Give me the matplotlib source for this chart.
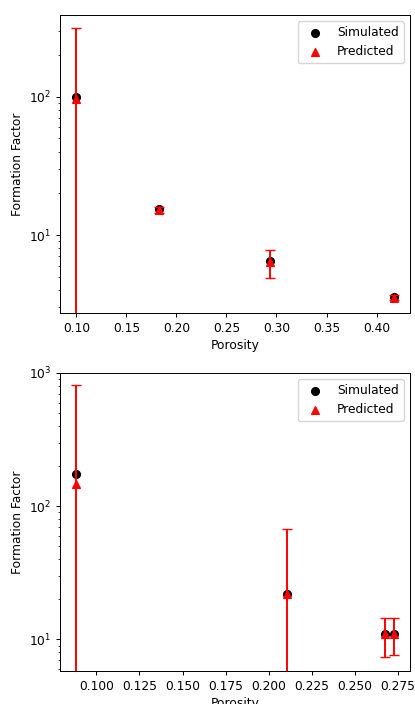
import numpy as np
import matplotlib
matplotlib.use("Agg")
from matplotlib import pyplot as plt

# top panel
por1 = [0.0997, 0.1830, 0.2932, 0.4177]
sim1 = [99.5, 15.3, 6.45, 3.55]
pred1 = [96.0, 15.2, 6.35, 3.52]
err1 = [217.0, 0.8, 1.5, 0.15]

# bottom panel
por2 = [0.0884, 0.2105, 0.2674, 0.2727]
sim2 = [175.0, 21.9, 11.0, 11.0]
pred2 = [148.0, 21.8, 11.0, 11.0]
err2 = [660.0, 46.0, 3.6, 3.4]

# the reference looks like a slightly shrunk default figure
sc = 0.88
plt.rcParams.update({
    'font.size': 10 * sc,
    'axes.linewidth': 0.8 * sc,
    'xtick.major.size': 3.5 * sc,
    'ytick.major.size': 3.5 * sc,
    'xtick.minor.size': 2 * sc,
    'ytick.minor.size': 2 * sc,
    'xtick.major.width': 0.8 * sc,
    'ytick.major.width': 0.8 * sc,
    'ytick.minor.width': 0.6 * sc,
    'xtick.major.pad': 3.5 * sc,
    'ytick.major.pad': 3.5 * sc,
    'axes.labelpad': 4 * sc,
})

fig = plt.figure(figsize=(4.15, 7.04), dpi=100)
ax1 = fig.add_axes([0.1446, 0.5554, 0.843, 0.4233])
ax2 = fig.add_axes([0.1446, 0.0469, 0.843, 0.4233])

for ax, x, s, p, e in [(ax1, por1, sim1, pred1, err1), (ax2, por2, sim2, pred2, err2)]:
    ax.scatter(x, s, color='k', marker='o', s=36 * sc * sc * 1.1, label='Simulated', zorder=2)
    ax.scatter(x, p, color='r', marker='^', s=36 * sc * sc * 1.1, label='Predicted', zorder=3)
    ax.errorbar(x, p, yerr=e, fmt='none', ecolor='r', capsize=3.5, elinewidth=1.4, zorder=2.5)
    ax.set_yscale('log')
    ax.set_xlabel('Porosity')
    ax.set_ylabel('Formation Factor')
    ax.legend(loc='upper right')

ax1.set_xlim(0.0836, 0.4333)
ax1.set_ylim(2.73, 390)
ax2.set_xlim(0.0789, 0.2818)
ax2.set_ylim(5.8, 1000)
ax2.set_xticks(np.arange(0.100, 0.276, 0.025))

fig.savefig('out.png', dpi=100)
